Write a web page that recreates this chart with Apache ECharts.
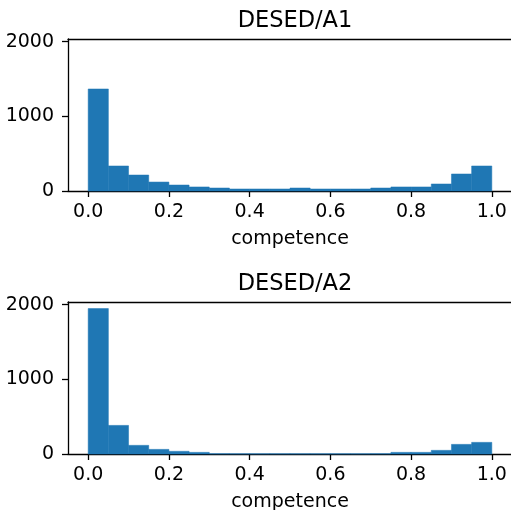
<!DOCTYPE html>
<html>
<head>
<meta charset="utf-8">
<script src="https://cdn.jsdelivr.net/npm/echarts@6/dist/echarts.min.js"></script>
<style>
  html, body { margin: 0; padding: 0; background: #fff; }
  #chart { width: 511px; height: 510px; }
</style>
</head>
<body>
<div id="chart"></div>
<script>
// bin edges of the competence histograms (20 bins)
const binStarts = [0.00, 0.05, 0.10, 0.15, 0.20, 0.25, 0.30, 0.35, 0.40, 0.45,
                   0.50, 0.55, 0.60, 0.65, 0.70, 0.75, 0.80, 0.85, 0.90, 0.95];
const binEnds   = [0.05, 0.10, 0.15, 0.20, 0.25, 0.30, 0.35, 0.40, 0.45, 0.50,
                   0.55, 0.60, 0.65, 0.70, 0.75, 0.80, 0.85, 0.90, 0.95, 1.00];
// counts
const countsA1 = [1366, 335, 214, 120, 80, 54, 40, 27, 27, 27,
                  40, 27, 27, 27, 40, 54, 54, 94, 228, 335];
const countsA2 = [1947, 383, 116, 62, 36, 22, 4, 3, 3, 3,
                  3, 3, 3, 3, 4, 22, 22, 49, 129, 156];
const titles = ['DESED/A1', 'DESED/A2'];
const xTicks = [0, 0.2, 0.4, 0.6, 0.8, 1.0];
const yTicks = [0, 1000, 2000];

const font = 'DejaVu Sans';
const spine = {show: true, onZero: false, lineStyle: {color: '#000', width: 1.3}};
let myChart = echarts.init(document.getElementById('chart'), null, {renderer: 'canvas'});

function binData(counts) {
    let temp = [];
    for (let i = 0; i < counts.length; i++) {
        temp.push([binStarts[i], binEnds[i], counts[i]]);
    }
    return temp;
}

function renderBin(params, api) {
    let p0 = api.coord([api.value(0), api.value(2)]);
    let p1 = api.coord([api.value(1), 0]);
    return {
        type: 'rect',
        shape: {x: p0[0], y: p0[1], width: p1[0] - p0[0], height: p1[1] - p0[1]},
        style: {fill: '#1f77b4', stroke: '#1f77b4', lineWidth: 0.5}
    };
}

function xAxisOpt(idx) {
    return {
        type: 'value', gridIndex: idx, min: -0.05, max: 1.05, position: 'bottom',
        name: 'competence', nameLocation: 'middle', nameGap: 39,
        nameTextStyle: {fontFamily: font, fontSize: 19, color: '#000'},
        axisLine: spine,
        splitLine: {show: false},
        axisTick: {show: true, length: 6, lineStyle: {color: '#000', width: 1.3}, customValues: xTicks},
        axisLabel: {
            fontFamily: font, fontSize: 19, color: '#000', margin: 12,
            customValues: xTicks,
            formatter: v => v.toFixed(1)
        }
    };
}

// top spine only
function topAxisOpt(idx) {
    return {
        type: 'value', gridIndex: idx, min: -0.05, max: 1.05, position: 'top',
        axisLine: spine, axisTick: {show: false}, axisLabel: {show: false}, splitLine: {show: false}
    };
}

function yAxisOpt(idx) {
    return {
        type: 'value', gridIndex: idx, min: 0, max: 2035, position: 'left',
        axisLine: spine,
        splitLine: {show: false},
        axisTick: {show: true, length: 6, lineStyle: {color: '#000', width: 1.3}, customValues: yTicks},
        axisLabel: {fontFamily: font, fontSize: 19, color: '#000', margin: 14,
                    customValues: yTicks, formatter: v => String(v)}
    };
}

myChart.setOption({
    animation: false,
    backgroundColor: '#fff',
    title: [
        {text: titles[0], left: 290, top: 5, textAlign: 'center',
         textStyle: {fontFamily: font, fontSize: 22.5, fontWeight: 'normal', color: '#000'}},
        {text: titles[1], left: 290, top: 268, textAlign: 'center',
         textStyle: {fontFamily: font, fontSize: 22.5, fontWeight: 'normal', color: '#000'}}
    ],
    grid: [
        {left: 68, top: 39, right: -1, height: 152, outerBoundsMode: 'none'},
        {left: 68, top: 302, right: -1, height: 152, outerBoundsMode: 'none'}
    ],
    xAxis: [xAxisOpt(0), xAxisOpt(1), topAxisOpt(0), topAxisOpt(1)],
    yAxis: [yAxisOpt(0), yAxisOpt(1)],
    series: [
        {type: 'custom', xAxisIndex: 0, yAxisIndex: 0, renderItem: renderBin,
         encode: {x: [0, 1], y: 2}, data: binData(countsA1)},
        {type: 'custom', xAxisIndex: 1, yAxisIndex: 1, renderItem: renderBin,
         encode: {x: [0, 1], y: 2}, data: binData(countsA2)}
    ]
});
</script>
</body>
</html>
